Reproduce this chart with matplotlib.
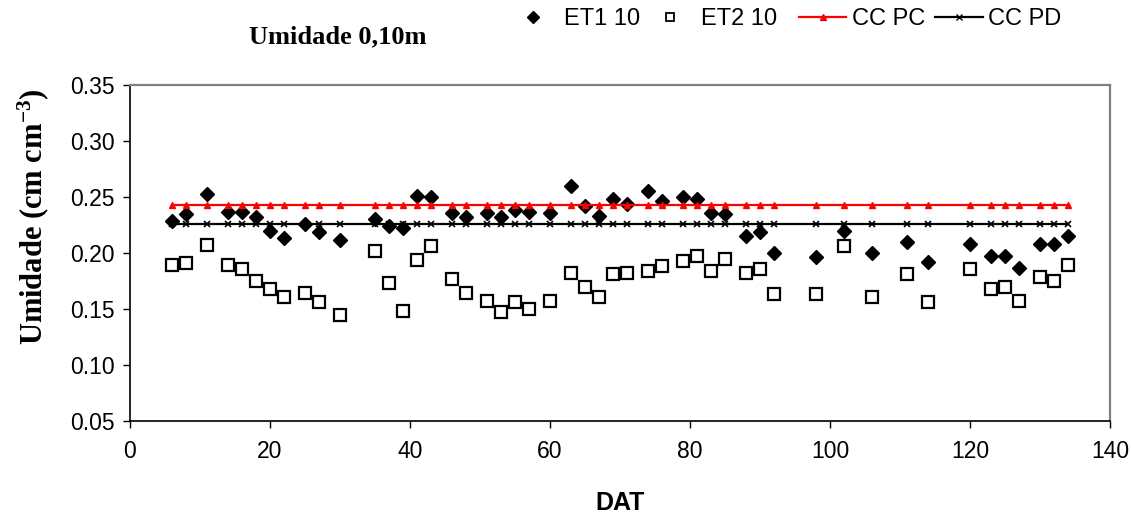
import matplotlib
matplotlib.use("Agg")
import matplotlib.pyplot as plt
from matplotlib.lines import Line2D

# dias apos o transplantio
dat = [6, 8, 11, 14, 16, 18, 20, 22, 25, 27, 30, 35,
       37, 39, 41, 43, 46, 48, 51, 53, 55, 57, 60, 63, 65, 67, 69,
       71, 74, 76, 79, 81, 83, 85, 88, 90, 92, 98, 102,
       106, 111, 114, 120, 123, 125, 127, 130, 132, 134]

et1_10 = [0.229, 0.235, 0.253, 0.237, 0.237, 0.232, 0.220, 0.213, 0.226, 0.219, 0.212, 0.230,
          0.224, 0.222, 0.251, 0.250, 0.236, 0.232, 0.236, 0.232, 0.238, 0.237, 0.236, 0.260, 0.242, 0.233, 0.248,
          0.244, 0.255, 0.246, 0.250, 0.248, 0.236, 0.235, 0.215, 0.219, 0.200, 0.196, 0.220,
          0.200, 0.210, 0.192, 0.208, 0.197, 0.197, 0.187, 0.208, 0.208, 0.215]

et2_10 = [0.189, 0.191, 0.207, 0.189, 0.186, 0.175, 0.168, 0.161, 0.164, 0.156, 0.145, 0.202,
          0.173, 0.148, 0.194, 0.206, 0.177, 0.164, 0.157, 0.147, 0.156, 0.150, 0.157, 0.182, 0.170, 0.161, 0.181,
          0.182, 0.184, 0.188, 0.193, 0.197, 0.184, 0.195, 0.182, 0.186, 0.163, 0.163, 0.206,
          0.161, 0.181, 0.156, 0.186, 0.168, 0.170, 0.157, 0.179, 0.175, 0.189]

# capacidade de campo
cc_pc = [0.243] * len(dat)
cc_pd = [0.226] * len(dat)

xticks = [0, 20, 40, 60, 80, 100, 120, 140]
yticks = [0.05, 0.10, 0.15, 0.20, 0.25, 0.30, 0.35]

plt.rcParams['font.family'] = ['Liberation Sans', 'DejaVu Sans']
plt.rcParams['mathtext.default'] = 'regular'

fig = plt.figure(figsize=(11.31, 5.16), dpi=100)
ax = fig.add_axes([130 / 1131, 1 - 421 / 516, 980 / 1131, 336 / 516])

ax.plot(dat, et1_10, linestyle='none', marker='D', markersize=7.5, color='black')
ax.plot(dat, et2_10, linestyle='none', marker='s', markersize=8, markerfacecolor='white',
        markeredgecolor='black', markeredgewidth=1.6)
ax.plot(dat, cc_pc, color='red', linewidth=1.6, marker='^', markersize=4)
ax.plot(dat, cc_pd, color='black', linewidth=1.6, marker='x', markersize=4, markeredgewidth=1.2)

ax.set_xlim(0, 140)
ax.set_ylim(0.05, 0.35)
ax.set_xticks(xticks)
ax.set_yticks(yticks)
ax.set_yticklabels(['%.2f' % v for v in yticks])
ax.tick_params(direction='out', length=5, width=1, labelsize=16.5, pad=6)
ax.tick_params(axis='x', pad=9)

for side in ['top', 'right']:
    ax.spines[side].set_color('#808080')
    ax.spines[side].set_linewidth(1.6)
for side in ['left', 'bottom']:
    ax.spines[side].set_color('black')
    ax.spines[side].set_linewidth(1.2)

ax.set_xlabel('DAT', fontsize=18, fontweight='bold', labelpad=20)
fig.text(33 / 1131, 1 - 217 / 516, 'Umidade (cm cm$^{-3}$)', rotation=90,
         ha='center', va='center', fontsize=22, fontweight='bold',
         family='Liberation Serif')
fig.text(338 / 1131, 1 - 37 / 516, 'Umidade 0,10m', ha='center', va='center',
         fontsize=19, fontweight='bold', family='Liberation Serif')

# legenda em duas partes: marcadores e linhas
h_pts = [Line2D([], [], linestyle='none', marker='D', markersize=6, color='black'),
         Line2D([], [], linestyle='none', marker='s', markersize=6, markerfacecolor='white',
                markeredgecolor='black', markeredgewidth=1.3)]
h_lin = [Line2D([], [], color='red', linewidth=1.6, marker='^', markersize=4),
         Line2D([], [], color='black', linewidth=1.6, marker='x', markersize=4)]

fig.legend(h_pts, ['ET1 10', 'ET2 10'], loc='center left', bbox_to_anchor=(521 / 1131, 1 - 19 / 516),
           ncol=2, frameon=False, fontsize=17, handlelength=1.0, handletextpad=0.8,
           columnspacing=0.8, borderpad=0, borderaxespad=0)
fig.legend(h_lin, ['CC PC', 'CC PD'], loc='center left', bbox_to_anchor=(799 / 1131, 1 - 19 / 516),
           ncol=2, frameon=False, fontsize=17, handlelength=2.0, handletextpad=0.25,
           columnspacing=0.42, borderpad=0, borderaxespad=0)

fig.savefig('out.png', dpi=100)
